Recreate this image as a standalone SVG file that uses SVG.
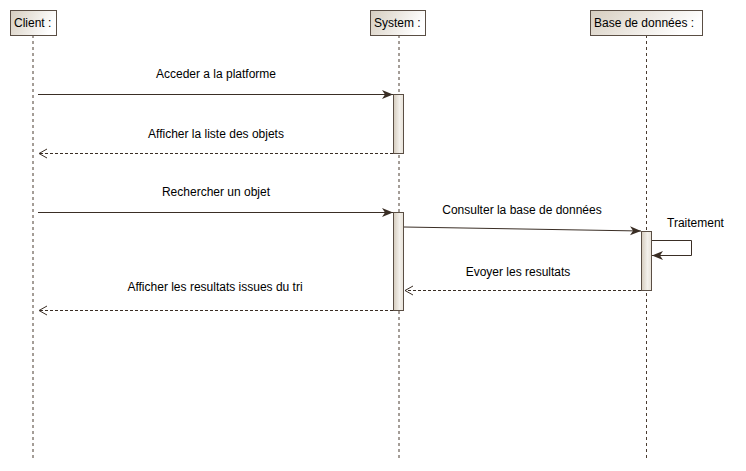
<svg xmlns="http://www.w3.org/2000/svg" width="746" height="471" viewBox="0 0 746 471">
<style>
text{font-family:"Liberation Sans",Arial,sans-serif;font-size:12px;fill:#000}
.box{fill:url(#g);stroke:#5a4e44;stroke-width:1}
.life{stroke:#4a3c31;stroke-width:1;stroke-dasharray:3,3;fill:none}
.act{fill:url(#ga);stroke:#5a4e44;stroke-width:1}
.msg{stroke:#3a2e25;stroke-width:1;fill:none}
.ret{stroke:#3a2e25;stroke-width:1;fill:none;stroke-dasharray:3,2}
</style>
<defs>
<linearGradient id="g" x1="0" y1="0" x2="1" y2="0.3">
<stop offset="0" stop-color="#d6cdbf"/><stop offset="1" stop-color="#ffffff"/>
</linearGradient>
<linearGradient id="ga" x1="0" y1="0" x2="1" y2="0">
<stop offset="0" stop-color="#d4cbbd"/><stop offset="0.6" stop-color="#f3f0eb"/><stop offset="1" stop-color="#e8e2d8"/>
</linearGradient>
<marker id="fa" markerWidth="12" markerHeight="10" refX="11" refY="5" orient="auto" markerUnits="userSpaceOnUse">
<path d="M0,0.5 L11,5 L0,9.5 L3,5 Z" fill="#3a2e25"/>
</marker>
<marker id="oa" markerWidth="12" markerHeight="12" refX="9" refY="6" orient="auto" markerUnits="userSpaceOnUse">
<path d="M1,1.5 L9,6 L1,10.5" fill="none" stroke="#3a2e25" stroke-width="1"/>
</marker>
</defs>
<g id="client">
<line class="life" x1="33" y1="35" x2="33" y2="461"/>
<rect class="box" x="10.5" y="10.5" width="46" height="25"/>
<text x="14" y="27">Client :</text>
</g>
<g id="system">
<line class="life" x1="399" y1="35" x2="399" y2="461"/>
<rect class="box" x="370.5" y="10.5" width="55" height="25"/>
<text x="374" y="27">System :</text>
<rect class="act" x="393.5" y="94.5" width="10" height="59"/>
<rect class="act" x="393.5" y="212.5" width="10" height="98"/>
</g>
<g id="base">
<line class="life" x1="646.5" y1="35" x2="646.5" y2="461"/>
<rect class="box" x="590.5" y="10.5" width="112" height="25"/>
<text x="594" y="27">Base de données :</text>
<rect class="act" x="641.5" y="231.5" width="10" height="59"/>
</g>
<g id="connectors">
<line class="msg" x1="38" y1="94.5" x2="393" y2="94.5" marker-end="url(#fa)"/>
<text x="216" y="78" text-anchor="middle">Acceder a la platforme</text>
<line class="ret" x1="393" y1="153.5" x2="39" y2="153.5" marker-end="url(#oa)"/>
<text x="216" y="138" text-anchor="middle">Afficher la liste des objets</text>
<line class="msg" x1="38" y1="212.5" x2="393" y2="212.5" marker-end="url(#fa)"/>
<text x="216" y="196" text-anchor="middle">Rechercher un objet</text>
<line class="msg" x1="404" y1="227" x2="641" y2="231" marker-end="url(#fa)"/>
<text x="522" y="214" text-anchor="middle">Consulter la base de données</text>
<polyline class="msg" points="652,240.5 691.5,240.5 691.5,255.5 652,255.5" marker-end="url(#fa)"/>
<text x="667" y="227">Traitement</text>
<line class="ret" x1="641" y1="290.5" x2="405" y2="290.5" marker-end="url(#oa)"/>
<text x="518" y="276" text-anchor="middle">Evoyer les resultats</text>
<line class="ret" x1="393" y1="310.5" x2="39" y2="310.5" marker-end="url(#oa)"/>
<text x="215" y="291" text-anchor="middle">Afficher les resultats issues du tri</text>
</g>
</svg>
